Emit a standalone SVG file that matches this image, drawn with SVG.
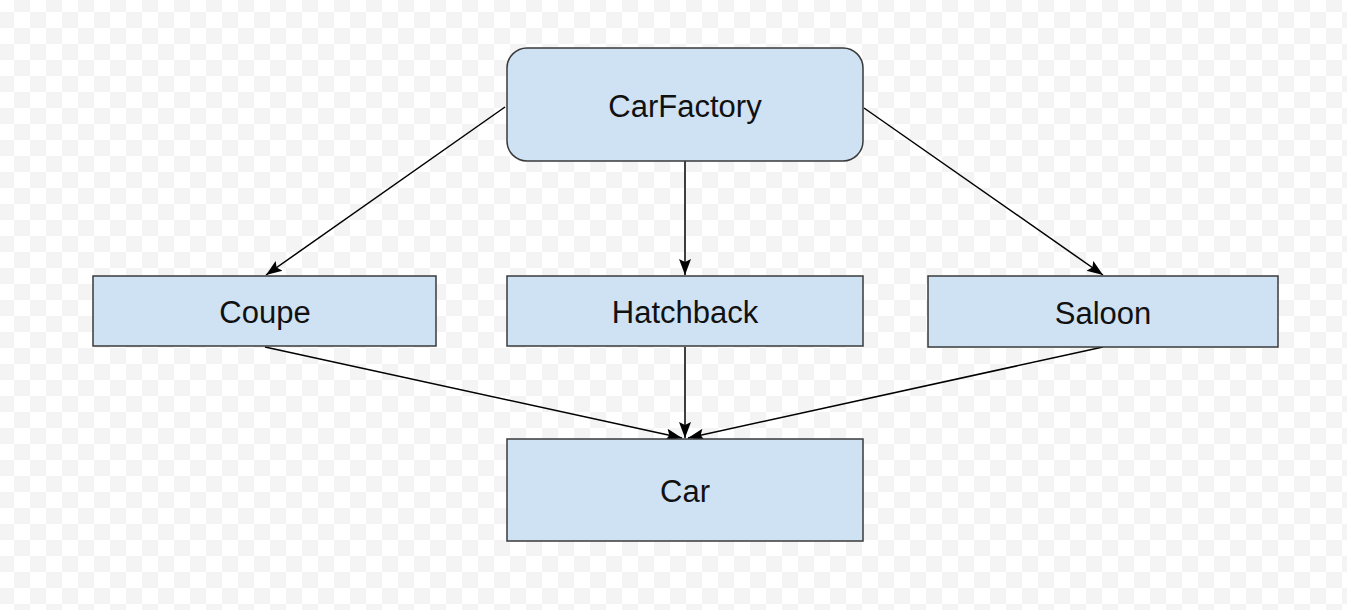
<svg xmlns="http://www.w3.org/2000/svg" width="1347" height="610" viewBox="0 0 1347 610">
<style>
.node{fill:#cfe2f3;stroke:#3a3a3a;stroke-width:1.5}
.lbl{font-family:"Liberation Sans",Arial,sans-serif;font-size:31px;fill:#111;text-anchor:middle}
.edge{stroke:#000;stroke-width:1.5;fill:none;marker-end:url(#arr)}
</style>
<defs>
<pattern id="chk" patternUnits="userSpaceOnUse" x="14" y="-4" width="32" height="32">
<rect width="32" height="32" fill="#ffffff"/>
<rect x="0" y="0" width="16" height="16" fill="#f4f4f4"/>
<rect x="16" y="16" width="16" height="16" fill="#f4f4f4"/>
</pattern>
<marker id="arr" markerUnits="userSpaceOnUse" markerWidth="18" markerHeight="14" refX="16" refY="7" orient="auto">
<path d="M0,1 L16,7 L0,13 L3,7 Z" fill="#000"/>
</marker>
</defs>
<rect width="1347" height="610" fill="url(#chk)"/>
<g id="connectors">
<line class="edge" x1="505" y1="107" x2="266" y2="275"/>
<line class="edge" x1="685" y1="161" x2="685" y2="275"/>
<line class="edge" x1="864" y1="108" x2="1103" y2="275"/>
<line class="edge" x1="265" y1="347" x2="682" y2="438"/>
<line class="edge" x1="685" y1="347" x2="685" y2="438"/>
<line class="edge" x1="1103" y1="347" x2="688" y2="438"/>
</g>
<g id="carfactory">
<rect class="node" x="507" y="48" width="356" height="113" rx="20" ry="20"/>
<text class="lbl" x="685" y="117">CarFactory</text>
</g>
<g id="coupe">
<rect class="node" x="93" y="276" width="343" height="70"/>
<text class="lbl" x="265" y="323">Coupe</text>
</g>
<g id="hatchback">
<rect class="node" x="507" y="276" width="356" height="70"/>
<text class="lbl" x="685" y="323">Hatchback</text>
</g>
<g id="saloon">
<rect class="node" x="928" y="276" width="350" height="71"/>
<text class="lbl" x="1103" y="324">Saloon</text>
</g>
<g id="car">
<rect class="node" x="507" y="439" width="356" height="102"/>
<text class="lbl" x="685" y="502">Car</text>
</g>
</svg>
